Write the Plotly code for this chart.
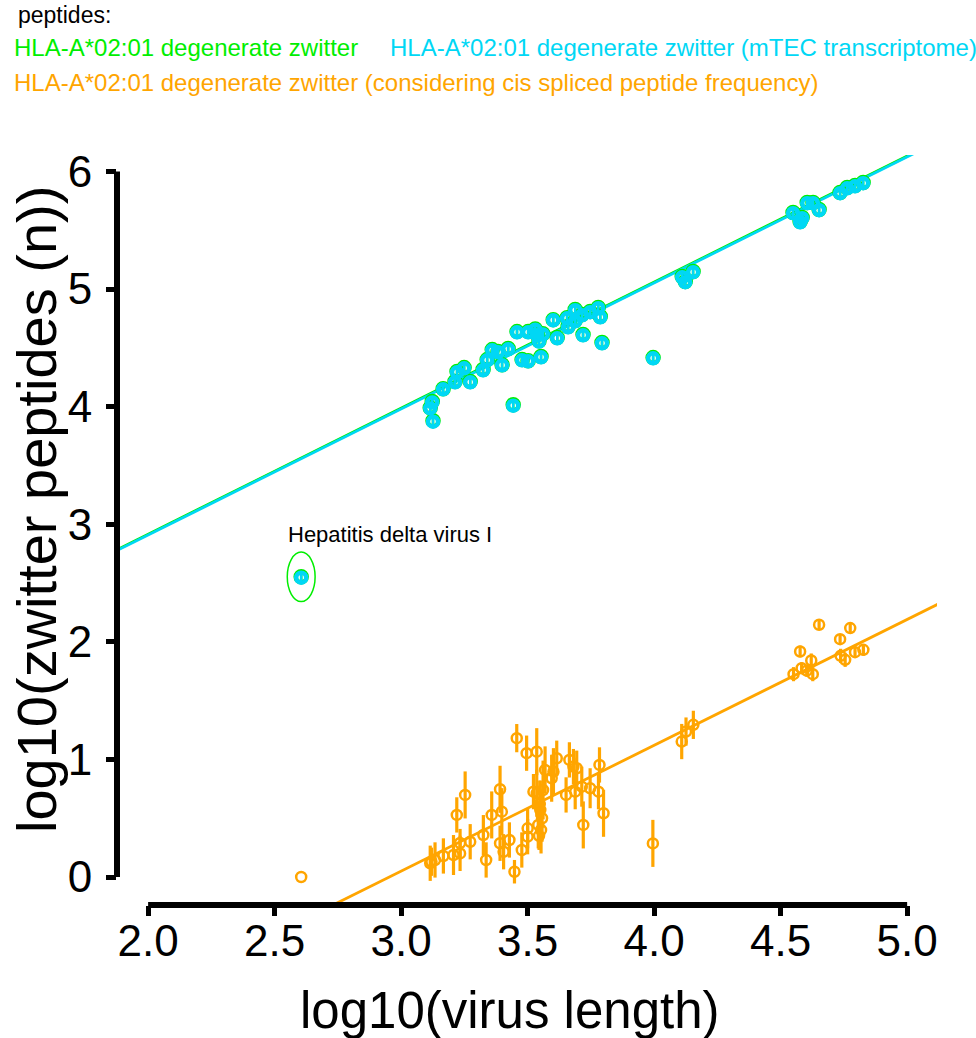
import plotly.graph_objects as go

# ---------------- data ----------------
virus_len_up = [2.605, 3.115, 3.123, 3.126, 3.166, 3.213, 3.221, 3.249, 3.273, 3.324,
                3.340, 3.360, 3.383, 3.399, 3.423, 3.443, 3.458, 3.478, 3.502, 3.502,
                3.530, 3.538, 3.545, 3.553, 3.560, 3.601, 3.617, 3.656, 3.660, 3.688,
                3.688, 3.715, 3.719, 3.747, 3.779, 3.787, 3.794, 3.996, 4.111, 4.123,
                4.154, 4.549, 4.577, 4.585, 4.605, 4.628, 4.652, 4.735, 4.763, 4.794,
                4.826]
zwitter_green = [2.553, 3.991, 4.043, 3.881, 4.153, 4.213, 4.298, 4.332, 4.213, 4.315,
                 4.400, 4.485, 4.468, 4.357, 4.494, 4.017, 4.638, 4.400, 4.638, 4.391,
                 4.660, 4.613, 4.560, 4.426, 4.620, 4.740, 4.587, 4.757, 4.681, 4.826,
                 4.732, 4.783, 4.613, 4.809, 4.843, 4.766, 4.545, 4.417, 5.106, 5.064,
                 5.149, 5.651, 5.574, 5.609, 5.736, 5.736, 5.677, 5.821, 5.863, 5.880,
                 5.906]
zwitter_mtec = [2.545, 3.985, 4.036, 3.872, 4.147, 4.207, 4.292, 4.326, 4.207, 4.309,
                4.394, 4.479, 4.462, 4.351, 4.488, 4.008, 4.632, 4.394, 4.632, 4.385,
                4.654, 4.607, 4.554, 4.420, 4.614, 4.734, 4.581, 4.751, 4.675, 4.820,
                4.726, 4.777, 4.607, 4.803, 4.837, 4.760, 4.539, 4.411, 5.100, 5.058,
                5.143, 5.645, 5.568, 5.603, 5.730, 5.730, 5.671, 5.815, 5.857, 5.874,
                5.900]
err_up = [0.05, 0.03, 0.03, 0.05, 0.03, 0.03, 0.03, 0.03, 0.03, 0.03,
          0.03, 0.03, 0.03, 0.03, 0.03, 0.05, 0.03, 0.03, 0.03, 0.03,
          0.03, 0.03, 0.03, 0.03, 0.03, 0.03, 0.03, 0.03, 0.03, 0.03,
          0.03, 0.03, 0.03, 0.03, 0.03, 0.03, 0.03, 0.03, 0.03, 0.03,
          0.03, 0.03, 0.03, 0.03, 0.03, 0.03, 0.03, 0.03, 0.03, 0.03,
          0.03]

virus_len_cis = [2.605, 3.115, 3.120, 3.134, 3.167, 3.207, 3.220, 3.233, 3.233, 3.253,
                 3.273, 3.325, 3.336, 3.358, 3.391, 3.391, 3.398, 3.405, 3.428, 3.448,
                 3.457, 3.477, 3.496, 3.500, 3.500, 3.523, 3.536, 3.536, 3.542, 3.550,
                 3.561, 3.569, 3.595, 3.602, 3.615, 3.652, 3.665, 3.681, 3.688, 3.694,
                 3.714, 3.720, 3.747, 3.780, 3.784, 3.800, 3.995, 4.109, 4.126, 4.155,
                 4.551, 4.577, 4.583, 4.603, 4.621, 4.627, 4.652, 4.735, 4.737, 4.755,
                 4.775, 4.794, 4.827, 3.545, 3.548, 3.553, 3.557]
zwitter_cis = [0.000, 0.117, 0.130, 0.145, 0.179, 0.187, 0.528, 0.201, 0.289, 0.698,
               0.300, 0.357, 0.145, 0.528, 0.746, 0.287, 0.556, 0.215, 0.315, 0.045,
               1.181, 0.230, 1.053, 0.414, 0.343, 0.726, 1.066, 0.712, 0.443, 0.570,
               0.740, 0.911, 0.840, 0.896, 1.010, 0.698, 0.996, 0.939, 0.726, 0.925,
               0.768, 0.443, 0.755, 0.726, 0.953, 0.542, 0.286, 1.152, 1.237, 1.294,
               1.725, 1.918, 1.776, 1.755, 1.841, 1.725, 2.145, 2.023, 1.881, 1.847,
               2.117, 1.912, 1.932, 0.350, 0.620, 0.400, 0.500]
err_cis = [0.00, 0.15, 0.12, 0.15, 0.15, 0.17, 0.15, 0.15, 0.12, 0.20,
           0.15, 0.17, 0.15, 0.20, 0.20, 0.15, 0.20, 0.15, 0.15, 0.10,
           0.12, 0.15, 0.15, 0.17, 0.15, 0.15, 0.20, 0.20, 0.20, 0.25,
           0.25, 0.20, 0.20, 0.20, 0.15, 0.15, 0.15, 0.15, 0.15, 0.15,
           0.17, 0.20, 0.17, 0.15, 0.15, 0.20, 0.20, 0.15, 0.12, 0.12,
           0.06, 0.05, 0.05, 0.05, 0.06, 0.06, 0.04, 0.04, 0.06, 0.06,
           0.04, 0.05, 0.05, 0.12, 0.20, 0.20, 0.20]

# linear fits (intercept, slope)
fit_green = (0.771, 1.072)
fit_mtec = (0.764, 1.072)
fit_cis = (-3.160, 1.070)

x_ticks = [2.0, 2.5, 3.0, 3.5, 4.0, 4.5, 5.0]
y_ticks = [0, 1, 2, 3, 4, 5, 6]

legend_title = "peptides:"
series_names = ["HLA-A*02:01 degenerate zwitter",
                "HLA-A*02:01 degenerate zwitter (mTEC transcriptome)",
                "HLA-A*02:01 degenerate zwitter (considering cis spliced peptide frequency)"]
highlight_label = "Hepatitis delta virus I"

# ---------------- styling ----------------
GREEN = "#00EE00"
CYAN = "#00D7F5"
ORANGE = "#FFA500"
FONT = "Liberation Sans, Arial, Helvetica, sans-serif"
X_RANGE = [1.877, 5.118]
Y_RANGE = [-0.238, 6.14]

W, H = 976, 1038
ML, MR, MT, MB = 117, 39, 155, 133
pw, ph = W - ML - MR, H - MT - MB


def px_x(p):
    return (p - ML) / pw


def px_y(p):
    return (H - MB - p) / ph


fig = go.Figure()

line_x = [X_RANGE[0] - 0.2, X_RANGE[1] + 0.2]
for (b0, b1), col in [(fit_green, GREEN), (fit_mtec, CYAN), (fit_cis, ORANGE)]:
    fig.add_trace(go.Scatter(x=line_x, y=[b0 + b1 * v for v in line_x], mode="lines",
                             line=dict(color=col, width=2.8), hoverinfo="skip",
                             showlegend=False))

fig.add_trace(go.Scatter(x=virus_len_up, y=zwitter_green, mode="markers",
                         marker=dict(symbol="circle-open", size=11, color=GREEN,
                                     line=dict(width=4.5, color=GREEN)),
                         error_y=dict(type="data", array=err_up, color=GREEN,
                                      thickness=2.5, width=0),
                         name=series_names[0], showlegend=False))
fig.add_trace(go.Scatter(x=virus_len_up, y=zwitter_mtec, mode="markers",
                         marker=dict(symbol="circle-open", size=10, color=CYAN,
                                     line=dict(width=4.5, color=CYAN)),
                         error_y=dict(type="data", array=err_up, color=CYAN,
                                      thickness=2.5, width=0),
                         name=series_names[1], showlegend=False))
fig.add_trace(go.Scatter(x=virus_len_cis, y=zwitter_cis, mode="markers",
                         marker=dict(symbol="circle-open", size=10, color=ORANGE,
                                     line=dict(width=2.5, color=ORANGE)),
                         error_y=dict(type="data", array=err_cis, color=ORANGE,
                                      thickness=3.2, width=0),
                         name=series_names[2], showlegend=False))

# highlighted outlier ellipse + label
hx, hy = virus_len_up[0], zwitter_green[0]
fig.add_shape(type="circle", xref="x", yref="y",
              x0=hx - 0.055, x1=hx + 0.055, y0=hy - 0.21, y1=hy + 0.21,
              line=dict(color=GREEN, width=1.5))
fig.add_annotation(x=hx - 0.06, y=hy + 0.24, xref="x", yref="y", text=highlight_label,
                   showarrow=False, xanchor="left", yanchor="bottom",
                   font=dict(size=22, color="black", family=FONT))

# capped axis lines
fig.add_shape(type="line", xref="x", yref="paper", x0=x_ticks[0], x1=x_ticks[-1],
              y0=0, y1=0, line=dict(color="black", width=6))
fig.add_shape(type="line", xref="paper", yref="y", x0=0, x1=0,
              y0=y_ticks[0], y1=y_ticks[-1], line=dict(color="black", width=6))

# legend-like text header
anns = [
    dict(text=legend_title, x=16, y=15, color="black", size=23),
    dict(text=series_names[0], x=12, y=48, color=GREEN, size=24),
    dict(text=series_names[1], x=388, y=48, color=CYAN, size=24),
    dict(text=series_names[2], x=12, y=83, color=ORANGE, size=24),
]
for a in anns:
    fig.add_annotation(x=px_x(a["x"]), y=px_y(a["y"]),
                       xref="paper", yref="paper", text=a["text"], showarrow=False,
                       xanchor="left", yanchor="middle",
                       font=dict(size=a["size"], color=a["color"], family=FONT))

# axis titles
fig.add_annotation(x=px_x(510), y=px_y(1010), xref="paper", yref="paper",
                   text="log10(virus length)", showarrow=False,
                   xanchor="center", yanchor="middle",
                   font=dict(size=51, color="black", family=FONT))
fig.add_annotation(x=px_x(36), y=px_y(510), xref="paper", yref="paper",
                   text="log10(zwitter peptides (n))", showarrow=False, textangle=-90,
                   xanchor="center", yanchor="middle",
                   font=dict(size=56, color="black", family=FONT))

fig.update_layout(
    width=W, height=H,
    margin=dict(l=ML, r=MR, t=MT, b=MB, autoexpand=False),
    paper_bgcolor="white", plot_bgcolor="white",
    font=dict(family=FONT, color="black"),
    showlegend=False,
    hovermode=False,
    xaxis=dict(range=X_RANGE, tickvals=x_ticks, ticktext=[f"{v:.1f}" for v in x_ticks],
               showgrid=False, zeroline=False, showline=False, automargin=False,
               ticks="outside", ticklen=10, tickwidth=5, tickcolor="black",
               ticklabelstandoff=-13,
               tickfont=dict(size=44, family=FONT, color="black")),
    yaxis=dict(range=Y_RANGE, tickvals=y_ticks, ticktext=[str(v) for v in y_ticks],
               showgrid=False, zeroline=False, showline=False, automargin=False,
               ticks="outside", ticklen=10, tickwidth=5, tickcolor="black",
               ticklabelstandoff=5,
               tickfont=dict(size=44, family=FONT, color="black")),
)

# the page body's default 8px margin would push the fixed-size figure off the window
fig.write_html("out.html", config={"displayModeBar": False},
               post_script="document.body.style.margin='0';document.body.style.overflow='hidden';")
